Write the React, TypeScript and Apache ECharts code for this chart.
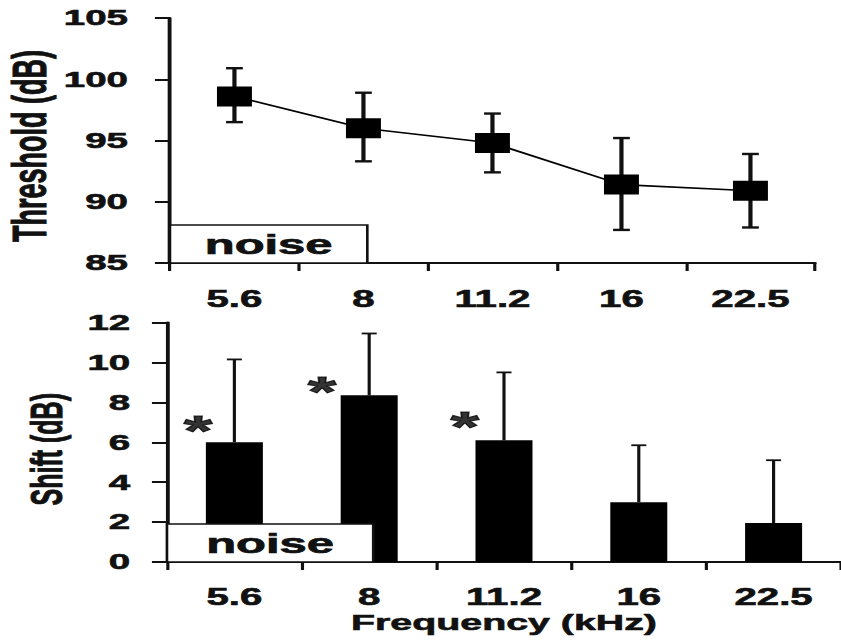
import React, { useEffect, useRef } from 'react';
import * as echarts from 'echarts';

// ---- data ----
const categories = ['5.6', '8', '11.2', '16', '22.5'];
const thresholdMean = [98.6, 96.0, 94.8, 91.4, 90.9];
const thresholdLow = [96.5, 93.3, 92.4, 87.7, 87.9];
const thresholdHigh = [100.9, 98.9, 97.2, 95.2, 93.9];
const shiftMean = [6.0, 8.35, 6.1, 3.0, 1.95];
const shiftHigh = [10.15, 11.45, 9.5, 5.85, 5.1];
// significance asterisks: position in category-band units, height in dB
const sigPosition = [0.23, 1.15, 2.21];
const sigLevel = [7.03, 8.99, 7.23];
// noise band box: extent in category-band units and dB
const noiseSpan = 1.53;
const noiseTop = [85, 88.1];
const noiseBottom = [0, 1.9];
const thresholdRange = [85, 105, 5];
const shiftRange = [0, 12, 2];

// The reference figure is horizontally stretched; reproduce it by
// drawing in a narrower box and scaling it along x.
const PAGE_W = 841;
const PAGE_H = 643;
const INNER_W = 481;
const STRETCH = PAGE_W / INNER_W;

const FONT = '"Liberation Sans", Arial, Helvetica, sans-serif';
const INK = '#111';
const HEAVY = { fontWeight: 'bold', color: INK, fontFamily: FONT, textBorderColor: INK, textBorderWidth: 0.6 };

function errorBarRenderer(lineWidth: number, capHalf: number, bottomCap: boolean) {
  return (params: any, api: any) => {
    const i = api.value(0);
    const lo = api.coord([i, api.value(1)]);
    const hi = api.coord([i, api.value(2)]);
    const style = { stroke: INK, lineWidth };
    const children: any[] = [
      { type: 'line', shape: { x1: hi[0], y1: hi[1], x2: lo[0], y2: lo[1] }, style },
      { type: 'line', shape: { x1: hi[0] - capHalf, y1: hi[1], x2: hi[0] + capHalf, y2: hi[1] }, style },
    ];
    if (bottomCap) {
      children.push({ type: 'line', shape: { x1: lo[0] - capHalf, y1: lo[1], x2: lo[0] + capHalf, y2: lo[1] }, style });
    }
    return { type: 'group', children };
  };
}

function noiseRenderer(params: any, api: any) {
  const p0 = api.coord([api.value(0), api.value(3)]);
  const p1 = api.coord([api.value(1), api.value(2)]);
  return {
    type: 'rect',
    shape: { x: p0[0], y: p0[1], width: p1[0] - p0[0], height: p1[1] - p0[1] },
    style: { fill: '#fff', stroke: INK, lineWidth: 1.5 },
    textContent: {
      type: 'text',
      style: {
        text: 'noise', fontSize: 28, fontWeight: 'bold', fontFamily: FONT, fill: INK,
        stroke: INK, lineWidth: 0.7,
      },
    },
    textConfig: { position: 'inside' },
  };
}

const axisLineStyle = { show: true, onZero: false, lineStyle: { color: INK, width: 2.2 } };

export default function App() {
  const ref = useRef<HTMLDivElement>(null);

  useEffect(() => {
    if (!ref.current) return;
    const chart = echarts.init(ref.current, undefined, { renderer: 'svg' });
    const option: any = {
      animation: false,
      backgroundColor: '#fff',
      grid: [
        { left: 97.2, top: 18, width: 368.9, height: 245, outerBoundsMode: 'none', containLabel: false },
        { left: 95.5, top: 322.5, width: 385.5, height: 239.5, outerBoundsMode: 'none', containLabel: false },
      ],
      xAxis: [
        {
          type: 'category', gridIndex: 0, data: categories,
          axisLine: axisLineStyle,
          axisTick: { show: true, length: 8, lineStyle: { color: INK, width: 1.8 } },
          axisLabel: { margin: 24, fontSize: 23, ...HEAVY },
          splitLine: { show: false },
        },
        {
          type: 'category', gridIndex: 1, data: categories,
          name: 'Frequency (kHz)', nameLocation: 'middle', nameGap: 48.5, nameMoveOverlap: false,
          nameTextStyle: { fontSize: 22.5, ...HEAVY },
          axisLine: axisLineStyle,
          axisTick: { show: true, length: 8, lineStyle: { color: INK, width: 1.8 } },
          axisLabel: { margin: 23.5, fontSize: 23, ...HEAVY },
          splitLine: { show: false },
        },
        { type: 'value', gridIndex: 0, min: 0, max: categories.length, show: false },
        { type: 'value', gridIndex: 1, min: 0, max: categories.length, show: false },
      ],
      yAxis: [
        {
          type: 'value', gridIndex: 0,
          min: thresholdRange[0], max: thresholdRange[1], interval: thresholdRange[2],
          name: 'Threshold (dB)', nameLocation: 'middle', nameGap: 67, nameMoveOverlap: false,
          nameTextStyle: { fontSize: 27, ...HEAVY, padding: [0, 11, 0, 0] },
          axisLine: axisLineStyle,
          axisTick: { show: true, length: 8.6, lineStyle: { color: INK, width: 2 } },
          axisLabel: { margin: 24, fontSize: 22, ...HEAVY },
          splitLine: { show: false },
        },
        {
          type: 'value', gridIndex: 1,
          min: shiftRange[0], max: shiftRange[1], interval: shiftRange[2],
          name: 'Shift (dB)', nameLocation: 'middle', nameGap: 56, nameMoveOverlap: false,
          nameTextStyle: { fontSize: 25, ...HEAVY, padding: [0, 14, 0, 0] },
          axisLine: axisLineStyle,
          axisTick: { show: true, length: 8.6, lineStyle: { color: INK, width: 2 } },
          axisLabel: { margin: 21, fontSize: 22, ...HEAVY },
          splitLine: { show: false },
        },
      ],
      series: [
        {
          type: 'custom', name: 'threshold error', xAxisIndex: 0, yAxisIndex: 0, z: 2,
          renderItem: errorBarRenderer(2.4, 4.8, true),
          data: categories.map((_, i) => [i, thresholdLow[i], thresholdHigh[i]]),
        },
        {
          type: 'line', name: 'Threshold', xAxisIndex: 0, yAxisIndex: 0, z: 3,
          data: thresholdMean, symbol: 'rect', symbolSize: [20, 20],
          itemStyle: { color: '#000' }, lineStyle: { color: '#000', width: 1.6 },
        },
        {
          type: 'custom', name: 'noise top', xAxisIndex: 2, yAxisIndex: 0, z: 1,
          renderItem: noiseRenderer,
          data: [[0, noiseSpan, noiseTop[0], noiseTop[1]]],
        },
        {
          type: 'bar', name: 'Shift', xAxisIndex: 1, yAxisIndex: 1, z: 2,
          data: shiftMean, barWidth: 32.6, itemStyle: { color: '#000' },
        },
        {
          type: 'custom', name: 'shift error', xAxisIndex: 1, yAxisIndex: 1, z: 3,
          renderItem: errorBarRenderer(1.8, 4.3, false),
          data: categories.map((_, i) => [i, shiftMean[i], shiftHigh[i]]),
        },
        {
          type: 'custom', name: 'noise bottom', xAxisIndex: 3, yAxisIndex: 1, z: 4,
          renderItem: noiseRenderer,
          data: [[0, noiseSpan, noiseBottom[0], noiseBottom[1]]],
        },
        {
          type: 'scatter', name: 'significance', xAxisIndex: 3, yAxisIndex: 1, z: 5,
          data: sigPosition.map((x, i) => [x, sigLevel[i]]),
          symbolSize: 1, itemStyle: { color: 'rgba(0,0,0,0)' },
          label: {
            show: true, formatter: '*', position: 'inside', offset: [0, 9],
            fontSize: 42, fontWeight: 'bold', color: '#000', fontFamily: FONT,
            textBorderColor: '#000', textBorderWidth: 1,
          },
        },
      ],
    };
    chart.setOption(option);
    return () => chart.dispose();
  }, []);

  return (
    <div style={{ position: 'fixed', left: 0, top: 0, width: PAGE_W, height: PAGE_H, overflow: 'hidden', background: '#fff' }}>
      <div
        ref={ref}
        style={{ width: INNER_W, height: PAGE_H, transform: `scaleX(${STRETCH})`, transformOrigin: '0 0' }}
      />
    </div>
  );
}
